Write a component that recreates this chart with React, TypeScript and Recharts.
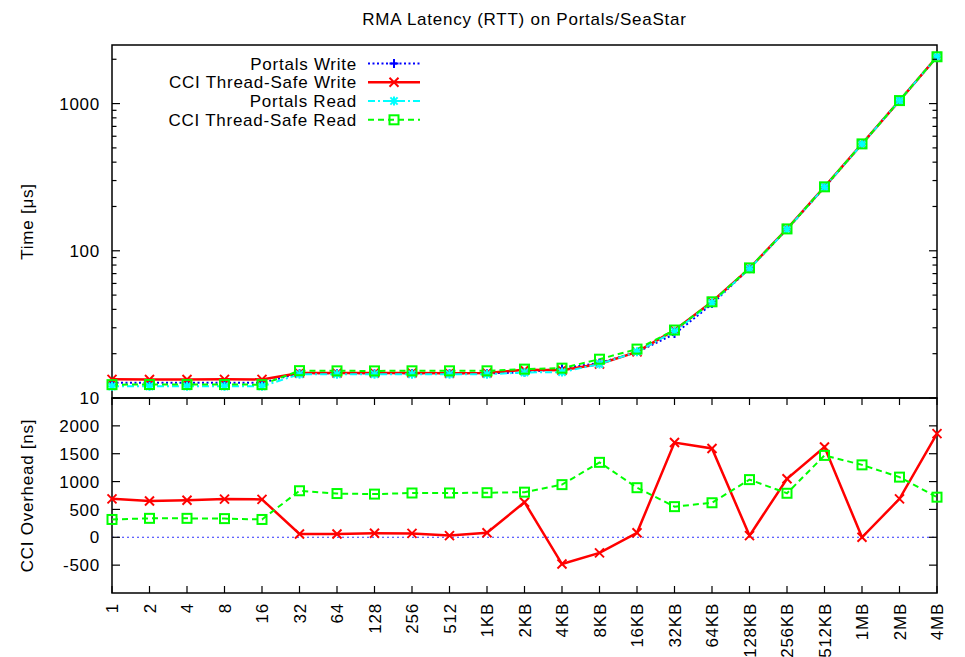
import React from 'react';
import { LineChart, Line, XAxis, YAxis, ReferenceArea, ReferenceLine, Legend } from 'recharts';

// ---------- data ----------
const categories = ['1', '2', '4', '8', '16', '32', '64', '128', '256', '512', '1KB', '2KB', '4KB', '8KB', '16KB', '32KB', '64KB', '128KB', '256KB', '512KB', '1MB', '2MB', '4MB'];

// RTT latency in microseconds
const portalsWrite = [12.7, 12.7, 12.7, 12.7, 12.7, 14.7, 14.7, 14.7, 14.7, 14.7, 14.7, 14.9, 15.9, 17.3, 20.5, 27.2, 43.5, 76.0, 140, 270, 532, 1047, 2078];
const cciWrite = [13.39, 13.35, 13.37, 13.39, 13.38, 14.76, 14.76, 14.77, 14.77, 14.73, 14.78, 15.53, 15.42, 17.02, 20.58, 28.9, 45.1, 76.03, 141.05, 271.62, 532, 1047.69, 2079.86];
const portalsRead = [12.0, 12.0, 12.0, 12.0, 12.0, 14.5, 14.5, 14.5, 14.5, 14.5, 14.5, 14.9, 15.0, 17.0, 20.6, 28.4, 44.4, 75.5, 140, 270.5, 531, 1047, 2079];
const cciRead = [12.32, 12.34, 12.34, 12.34, 12.32, 15.34, 15.29, 15.28, 15.3, 15.3, 15.3, 15.71, 15.95, 18.35, 21.49, 28.95, 45.02, 76.54, 140.79, 271.97, 532.3, 1048.08, 2079.72];

// CCI overhead in nanoseconds
const writeOverhead = [690, 650, 665, 685, 680, 60, 60, 72, 70, 30, 80, 630, -480, -280, 80, 1700, 1595, 30, 1050, 1620, 0, 690, 1860];
const readOverhead = [320, 340, 340, 335, 320, 835, 785, 775, 795, 795, 800, 810, 945, 1345, 890, 550, 620, 1035, 790, 1470, 1300, 1080, 720];

const topTicks = [10, 20, 30, 40, 50, 60, 70, 80, 90, 100, 200, 300, 400, 500, 600, 700, 800, 900, 1000, 2000];
const topMajor = [10, 100, 1000];
const bottomTicks = [-500, 0, 500, 1000, 1500, 2000];

const seriesNames = ['Portals Write', 'CCI Thread-Safe Write', 'Portals Read', 'CCI Thread-Safe Read'];
const titleText = 'RMA Latency (RTT) on Portals/SeaStar';

const topData = categories.map((c, i) => ({
  cat: c,
  pw: portalsWrite[i],
  cw: cciWrite[i],
  pr: portalsRead[i],
  cr: cciRead[i],
}));
const bottomData = categories.map((c, i) => ({
  cat: c,
  wo: writeOverhead[i],
  ro: readOverhead[i],
}));

// ---------- styles ----------
const FONT = '"Liberation Sans", Arial, Helvetica, sans-serif';
const FS = 17;
const LS = 0.75;
const PLOT_L = 112;
const PLOT_R = 937;
const BOT_TOP = 8;

const textStyle: React.CSSProperties = { fontFamily: FONT, fontSize: FS, letterSpacing: LS };

const BLUE = '#0000ff';
const RED = '#ff0000';
const CYAN = '#00ffff';
const GREEN = '#00ff00';

type Shape = 'plus' | 'cross' | 'star' | 'square';

function marker(shape: Shape, cx: number, cy: number, color: string, s: number, key?: any) {
  const sw = 2;
  if (shape === 'square') {
    return <rect key={key} x={cx - s} y={cy - s} width={2 * s} height={2 * s} fill="none" stroke={color} strokeWidth={sw} />;
  }
  const lines: any[] = [];
  if (shape === 'plus' || shape === 'star') {
    lines.push(<line key="h" x1={cx - s} x2={cx + s} y1={cy} y2={cy} stroke={color} strokeWidth={sw} />);
    lines.push(<line key="v" x1={cx} x2={cx} y1={cy - s} y2={cy + s} stroke={color} strokeWidth={sw} />);
  }
  if (shape === 'cross' || shape === 'star') {
    const d = shape === 'star' ? s * 0.8 : s;
    lines.push(<line key="d1" x1={cx - d} x2={cx + d} y1={cy - d} y2={cy + d} stroke={color} strokeWidth={sw} />);
    lines.push(<line key="d2" x1={cx - d} x2={cx + d} y1={cy + d} y2={cy - d} stroke={color} strokeWidth={sw} />);
  }
  return <g key={key}>{lines}</g>;
}

const dotFn = (shape: Shape, color: string, s: number) => (props: any) => {
  const { cx, cy, index } = props;
  if (cx == null || cy == null || isNaN(cx) || isNaN(cy)) return <g key={`e${index}`} />;
  return marker(shape, cx, cy, color, s, `d${index}`);
};

const legendItems = [
  { name: seriesNames[0], color: BLUE, dash: '2 2.5', shape: 'plus' as Shape, width: 2 },
  { name: seriesNames[1], color: RED, dash: undefined, shape: 'cross' as Shape, width: 2.5 },
  { name: seriesNames[2], color: CYAN, dash: '7 3 2 3', shape: 'star' as Shape, width: 2 },
  { name: seriesNames[3], color: GREEN, dash: '6 4', shape: 'square' as Shape, width: 2 },
];

const LegendContent = () => {
  const rows = [63.5, 82.3, 101, 119.8];
  return (
    <svg width={965} height={140} style={{ display: 'block', overflow: 'visible' }}>
      <text x={(PLOT_L + PLOT_R) / 2} y={25} textAnchor="middle" style={textStyle} fill="#000">
        {titleText}
      </text>
      {legendItems.map((it, i) => (
        <g key={it.name}>
          <text x={357} y={rows[i]} dy="0.36em" textAnchor="end" style={textStyle} fill="#000">
            {it.name}
          </text>
          <line x1={368} x2={420} y1={rows[i]} y2={rows[i]} stroke={it.color} strokeWidth={it.width} strokeDasharray={it.dash} />
          {marker(it.shape, 394, rows[i], it.color, 4.5)}
        </g>
      ))}
    </svg>
  );
};

const LogTick = (props: any) => {
  const { y, payload } = props;
  const v = payload.value;
  const major = topMajor.includes(v);
  const len = major ? 8 : 4.5;
  return (
    <g>
      <line x1={PLOT_L} x2={PLOT_L + len} y1={y} y2={y} stroke="#000" strokeWidth={1.2} />
      <line x1={PLOT_R - len} x2={PLOT_R} y1={y} y2={y} stroke="#000" strokeWidth={1.2} />
      {major && (
        <text x={PLOT_L - 12} y={y} dy="0.36em" textAnchor="end" style={textStyle} fill="#000">
          {v}
        </text>
      )}
    </g>
  );
};

const LinTick = (props: any) => {
  const { y, payload } = props;
  const v = payload.value;
  return (
    <g>
      <line x1={PLOT_L} x2={PLOT_L + 8} y1={y} y2={y} stroke="#000" strokeWidth={1.2} />
      <line x1={PLOT_R - 8} x2={PLOT_R} y1={y} y2={y} stroke="#000" strokeWidth={1.2} />
      <text x={PLOT_L - 12} y={y} dy="0.36em" textAnchor="end" style={textStyle} fill="#000">
        {v}
      </text>
    </g>
  );
};

const XTick = (props: any) => {
  const { x, y, payload } = props;
  const ax = x + 6;
  const ay = y + 10;
  return (
    <g>
      <line x1={x} x2={x} y1={y} y2={y - 7} stroke="#000" strokeWidth={1.2} />
      <line x1={x} x2={x} y1={BOT_TOP} y2={BOT_TOP + 7} stroke="#000" strokeWidth={1.2} />
      <text x={ax} y={ay} transform={`rotate(-90 ${ax} ${ay})`} textAnchor="end" style={textStyle} fill="#000">
        {payload.value}
      </text>
    </g>
  );
};

const YLabel = (props: any) => {
  const { viewBox, text } = props;
  const cy = viewBox ? viewBox.y + viewBox.height / 2 : 0;
  const cx = 33;
  return (
    <text x={cx} y={cy} transform={`rotate(-90 ${cx} ${cy})`} textAnchor="middle" style={textStyle} fill="#000">
      {text}
    </text>
  );
};

export default function App() {
  return (
    <div style={{ position: 'absolute', left: 0, top: 0, width: 965, height: 657, background: '#fff' }}>
      <div style={{ position: 'absolute', left: 0, top: 390 }}>
        <LineChart width={965} height={267} data={bottomData} margin={{ top: BOT_TOP, right: 28, bottom: 0, left: 0 }}>
          <XAxis
            dataKey="cat"
            interval={0}
            height={64}
            tickSize={0}
            tickMargin={0}
            tickLine={false}
            axisLine={false}
            tick={XTick}
          />
          <YAxis
            type="number"
            domain={[-1000, 2500]}
            allowDataOverflow
            ticks={bottomTicks}
            interval={0}
            width={112}
            tickSize={0}
            tickMargin={0}
            tickLine={false}
            axisLine={false}
            tick={LinTick}
            label={<YLabel text="CCI Overhead [ns]" />}
          />
          <ReferenceArea x1={categories[0]} x2={categories[categories.length - 1]} y1={-1000} y2={2500} fill="none" stroke="#000" strokeWidth={1.5} ifOverflow="visible" />
          <ReferenceLine y={0} stroke="#3030ff" strokeWidth={1.1} strokeDasharray="2 3" />
          <Line dataKey="wo" stroke={RED} strokeWidth={2.5} dot={dotFn('cross', RED, 4.5)} activeDot={false} isAnimationActive={false} />
          <Line dataKey="ro" stroke={GREEN} strokeWidth={2} strokeDasharray="6 4" dot={dotFn('square', GREEN, 4.5)} activeDot={false} isAnimationActive={false} />
        </LineChart>
      </div>
      <div style={{ position: 'absolute', left: 0, top: 0 }}>
        <LineChart width={965} height={410} data={topData} margin={{ top: 45, right: 28, bottom: 12, left: 0 }}>
          <XAxis dataKey="cat" hide />
          <YAxis
            type="number"
            scale="log"
            domain={[10, 2500]}
            allowDataOverflow
            ticks={topTicks}
            interval={0}
            width={112}
            tickSize={0}
            tickMargin={0}
            tickLine={false}
            axisLine={false}
            tick={LogTick}
            label={<YLabel text="Time [μs]" />}
          />
          <ReferenceArea x1={categories[0]} x2={categories[categories.length - 1]} y1={10} y2={2500} fill="none" stroke="#000" strokeWidth={1.5} ifOverflow="visible" />
          <Line dataKey="pw" name={seriesNames[0]} stroke={BLUE} strokeWidth={2} strokeDasharray="2 2.5" dot={dotFn('plus', BLUE, 4)} activeDot={false} isAnimationActive={false} />
          <Line dataKey="cw" name={seriesNames[1]} stroke={RED} strokeWidth={2.5} dot={dotFn('cross', RED, 4.5)} activeDot={false} isAnimationActive={false} />
          <Line dataKey="pr" name={seriesNames[2]} stroke={CYAN} strokeWidth={2} strokeDasharray="7 3 2 3" dot={dotFn('star', CYAN, 4.5)} activeDot={false} isAnimationActive={false} />
          <Line dataKey="cr" name={seriesNames[3]} stroke={GREEN} strokeWidth={2} strokeDasharray="6 4" dot={dotFn('square', GREEN, 4.5)} activeDot={false} isAnimationActive={false} />
          <Legend
            layout="vertical"
            align="center"
            verticalAlign="middle"
            wrapperStyle={{ left: 0, top: 0, width: 965, height: 140, margin: 0, padding: 0 }}
            content={LegendContent}
          />
        </LineChart>
      </div>
    </div>
  );
}
